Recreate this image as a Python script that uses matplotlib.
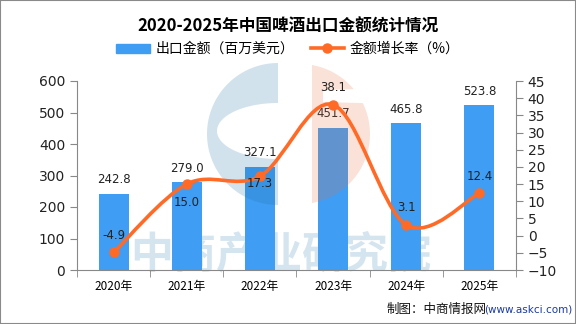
import matplotlib
matplotlib.use("Agg")
import matplotlib.pyplot as plt
from matplotlib.path import Path
from matplotlib.patches import PathPatch, Wedge, Rectangle, Ellipse
from matplotlib.lines import Line2D
import numpy as np

plt.rcParams['font.family'] = ['Noto Sans CJK SC', 'DejaVu Sans']

years = ['2020年', '2021年', '2022年', '2023年', '2024年', '2025年']
export_value = [242.8, 279.0, 327.1, 451.7, 465.8, 523.8]
growth_rate = [-4.9, 15.0, 17.3, 38.1, 3.1, 12.4]
bar_label = '出口金额（百万美元）'
line_label = '金额增长率（%）'
title = '2020-2025年中国啤酒出口金额统计情况'

bar_color = '#3f9df3'
line_color = '#ff6a26'
axis_color = '#888888'

W, H = 576, 324
fig = plt.figure(figsize=(W / 100, H / 100), dpi=100)
fig.patches.append(Rectangle((0, 0), 1, 1, transform=fig.transFigure, fill=False,
                             edgecolor='#8a8a8a', linewidth=1.5))

rect = [77 / W, 1 - 270 / H, (516 - 77) / W, (270 - 81) / H]
ax = fig.add_axes(rect)
ax2 = ax.twinx()
ax.set_zorder(1)
ax2.set_zorder(3)
ax.patch.set_visible(False)
ax2.patch.set_visible(False)

# watermark text (behind bars)
fig.text(281 / W, 1 - 254 / H, '中商产业研究院', fontsize=31, color='#d5e5ef', ha='center',
         va='center', fontweight='bold', zorder=-1)

# watermark logo (over bars, translucent) in pixel coordinates
wm = fig.add_axes([0, 0, 1, 1])
wm.set_zorder(2)
wm.set_xlim(0, W); wm.set_ylim(H, 0); wm.axis('off')
blue_wm = (30 / 255, 110 / 255, 160 / 255, 0.2)
pink_wm = (235 / 255, 110 / 255, 60 / 255, 0.2)
# blue "C": outer half-disc minus inner ellipse, built as a compound path
outer = Wedge((278, 134), 71, 90, 270).get_path()
theta = np.linspace(np.pi / 2, 3 * np.pi / 2, 60)
cx, cy = 278, 131
ow = [(cx + 71 * np.cos(t), 134 - 71 * np.sin(t)) for t in theta]
iw = [(cx + 61 * np.cos(t), cy - 28 * np.sin(t)) for t in theta[::-1]]
cverts = ow + [(cx, 205), (cx, 159)] + iw + [(cx, 63)]
cverts = [(cx, 63)] + ow[1:] + [(cx, 205)] + [(cx, 159)] + iw + [(cx, 103), (cx, 63)]
ccodes = [Path.MOVETO] + [Path.LINETO] * (len(cverts) - 1)
wm.add_patch(PathPatch(Path(cverts, ccodes), facecolor=blue_wm, edgecolor='none'))
# pink part: right half-disc with a horizontal white notch near the top
pc = (300, 134)
pr = 70
ts = np.linspace(-np.pi / 2, np.pi / 2, 80)
arc = [(pc[0] + pr * np.cos(t), pc[1] - pr * np.sin(t)) for t in ts]
arc = [(max(x_, 312), y_) for x_, y_ in arc]
lower = [p for p in arc if p[1] >= 102]
upper = [p for p in arc if p[1] <= 90]
pverts = [(312, 204)] + lower + [(323, 102), (323, 90)] + upper + [(312, 64), (312, 204)]
pcodes = [Path.MOVETO] + [Path.LINETO] * (len(pverts) - 1)
wm.add_patch(PathPatch(Path(pverts, pcodes), facecolor=pink_wm, edgecolor='none'))

x = np.arange(len(years))
ax.bar(x, export_value, width=0.41, color=bar_color, zorder=2)
for xi, v in zip(x, export_value):
    ax.annotate(f'{v:.1f}', (xi, v), xytext=(0, 14 * 0.72), textcoords='offset points',
                ha='center', va='center', fontsize=8.5, color='#222222',
                family=['DejaVu Sans'])

ax.set_xlim(-0.5, len(years) - 0.5)
ax.set_ylim(0, 600)
ax.set_yticks(np.arange(0, 601, 100))
ax2.set_ylim(-10, 45)
ax2.set_yticks(np.arange(-10, 46, 5))

# smooth line through the points (cubic bezier, Catmull-Rom control points)
pts = np.column_stack([x, growth_rate]).astype(float)
verts = [tuple(pts[0])]
codes = [Path.MOVETO]
k = 0.5 / 3
for i in range(len(pts) - 1):
    p0 = pts[i - 1] if i > 0 else pts[i]
    p1 = pts[i]
    p2 = pts[i + 1]
    p3 = pts[i + 2] if i + 2 < len(pts) else pts[i + 1]
    c1 = p1 + (p2 - p0) * k
    c2 = p2 - (p3 - p1) * k
    verts += [tuple(c1), tuple(c2), tuple(p2)]
    codes += [Path.CURVE4] * 3
ax2.add_patch(PathPatch(Path(verts, codes), facecolor='none', edgecolor=line_color,
                        linewidth=2.6, zorder=3, capstyle='round'))
ax2.plot(x, growth_rate, 'o', color=line_color, markersize=6.5, zorder=4)

label_dy = [17, -18, -7, 17, 17, 17]
for xi, v, dy in zip(x, growth_rate, label_dy):
    ax2.annotate(f'{v:.1f}', (xi, v), xytext=(0, dy * 0.72), textcoords='offset points',
                 ha='center', va='center', fontsize=8.5, color='#222222',
                 family=['DejaVu Sans'], zorder=5)

for a in (ax, ax2):
    a.spines['top'].set_visible(False)
    for s in ('left', 'right', 'bottom'):
        a.spines[s].set_color(axis_color)
    a.tick_params(axis='y', colors='#222222', labelsize=10, length=5, color=axis_color)
ax.spines['right'].set_visible(False)
ax2.spines['left'].set_visible(False)
ax2.spines['bottom'].set_visible(False)
ax.set_xticks(x)
ax.set_xticklabels(years, fontsize=8.5)
ax.tick_params(axis='x', length=0, pad=7)
ax.set_xticks(np.arange(-0.5, len(years), 1.0), minor=True)
ax.tick_params(axis='x', which='minor', length=5, color=axis_color)
for lbl in ax.get_yticklabels() + ax2.get_yticklabels():
    lbl.set_family(['DejaVu Sans'])

fig.text(0.5, 1 - 27 / H, title, ha='center', va='center', fontsize=12, fontweight='bold')

handles = [Rectangle((0, 0), 1, 1, color=bar_color),
           Line2D([0], [0], color=line_color, linewidth=2.6, marker='o', markersize=6.5)]
fig.legend(handles, [bar_label, line_label], loc='center', bbox_to_anchor=(0.5, 1 - 49 / H),
           ncol=2, frameon=False, fontsize=10, handlelength=2.4, handleheight=0.6,
           columnspacing=1.2, handletextpad=0.4)

fig.text(387 / W, 1 - 309 / H, '制图：中商情报网', ha='left', va='center', fontsize=9,
         color='#111111')
fig.text(484 / W, 1 - 309 / H, '(www.askci.com)', ha='left', va='center', fontsize=7.5,
         color='#1a3aa0', family=['DejaVu Sans'])

fig.savefig('out.png', dpi=100)
